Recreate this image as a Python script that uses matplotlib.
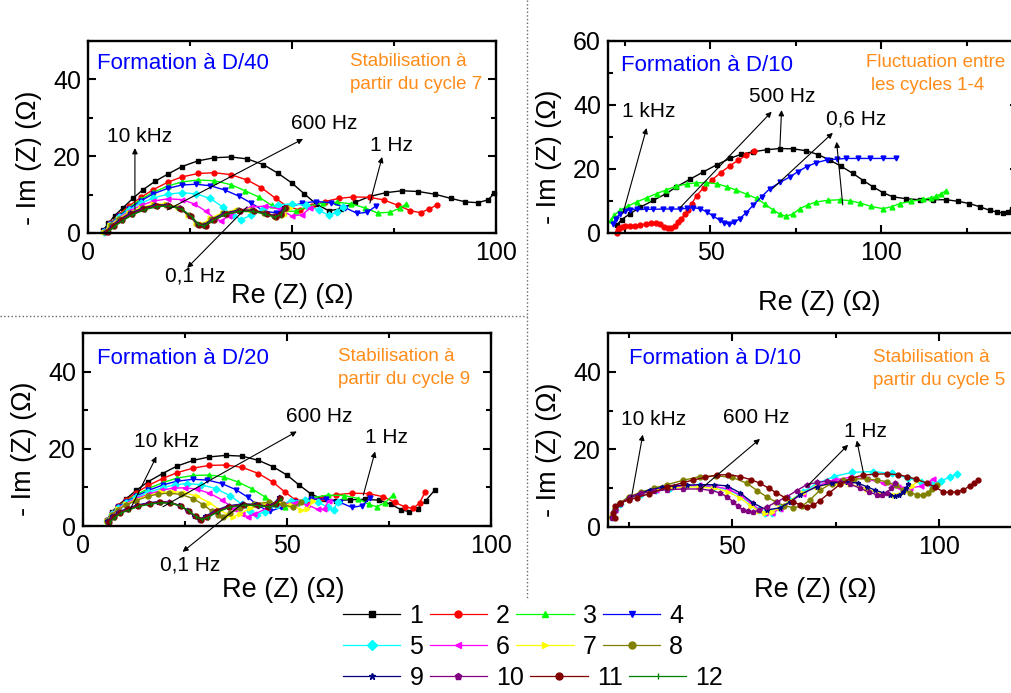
import matplotlib
matplotlib.use("Agg")
import matplotlib.pyplot as plt
from matplotlib.lines import Line2D
from matplotlib.ticker import MultipleLocator

plt.rcParams['font.family'] = ['Liberation Sans', 'DejaVu Sans']

#%% styles des cycles
COLORS = ['black', 'red', '#00ff00', 'blue', 'cyan', 'magenta', 'yellow',
          '#808000', '#000080', '#800080', '#800000', '#008000']
MARKERS = ['s', 'o', '^', 'v', 'D', '<', '>', 'o', '*', 'p', 'o', '|']
CYCLES = [str(i) for i in range(1, 13)]

#%% donnees : formation a D/40 (cycles 1-12)
D40_RE = [
    [3.7, 5, 6.5, 8.5, 11, 13.5, 16.5, 19.5, 23, 27, 31, 35, 39, 43, 46.5, 50, 53, 56, 59, 62, 65.5, 69, 73, 77, 81, 85, 89, 92.5, 95.5, 98, 99.6],
    [4, 5.5, 7.5, 10, 13, 16, 19.5, 23, 27, 31, 35, 39, 42.5, 46, 49, 52, 55, 58, 61.5, 65, 69, 72.5, 76, 79, 81.5, 83.5, 85.5],
    [4, 5.5, 7.5, 10, 13, 16, 19.5, 23, 27, 31, 35, 38.5, 42, 45, 48, 51, 54, 57.5, 61, 64.5, 68, 71, 74, 76.5, 78],
    [4, 5.5, 7.5, 10, 13, 16, 19.5, 23, 26.5, 30, 33.5, 37, 40, 43, 46, 49, 52.5, 56, 59.5, 63, 66, 68.5, 70.5],
    [4, 5.5, 7.5, 10, 13, 16, 19.5, 23, 26.5, 30, 33, 35.5, 37.5, 40, 43, 46.5, 50, 53.5, 56.5, 59, 61, 62.5],
    [4, 5.5, 7.5, 10, 13, 16, 19.5, 23, 26, 29, 31, 32.5, 34.5, 37, 40, 43.5, 47, 50, 52.5, 54.5],
    [4, 5.5, 7.5, 10, 13, 16, 19, 22, 24.5, 26.5, 28, 30, 33, 36.5, 40, 43.5, 46, 48, 49.5],
    [4.2, 5.7, 7.7, 10.2, 13.2, 16.2, 19.2, 22.2, 24.7, 26.7, 28.2, 30.2, 33.2, 36.7, 40.2, 43.2, 45.5, 47.3, 48.5],
    [4.4, 5.9, 7.9, 10.4, 13.4, 16.4, 19.4, 22.4, 24.9, 26.9, 28.4, 30.4, 33.4, 36.9, 40.4, 43.4, 45.5, 47, 48],
    [4.6, 6.1, 8.1, 10.6, 13.6, 16.6, 19.6, 22.6, 25.1, 27.1, 28.6, 30.6, 33.6, 37.1, 40.6, 43.6, 45.8, 47.2, 48.2],
    [4.8, 6.3, 8.3, 10.8, 13.8, 16.8, 19.8, 22.8, 25.3, 27.3, 28.8, 30.8, 33.8, 37.3, 40.8, 43.8, 46, 47.4, 48.4],
    [5, 6.5, 8.5, 11, 14, 17, 20, 23, 25.5, 27, 28.5, 30.5, 33.5, 37, 40.5, 43.5, 45.8, 47.3, 48.3],
]
D40_IM = [
    [0.7, 2.5, 4.5, 6.5, 9, 11.3, 13.5, 15.3, 17.3, 18.8, 19.6, 19.8, 19.3, 17.8, 15.6, 13, 10.2, 7.5, 5.8, 6.3, 8, 9.5, 10.5, 11, 10.8, 10.1, 9, 8.1, 7.9, 8.6, 10.3],
    [0.5, 2.5, 4.8, 7, 9.3, 11.3, 13.2, 14.6, 15.5, 15.7, 15.2, 13.8, 11.8, 9, 6.8, 6, 7, 8.2, 9, 9.4, 9.3, 8.6, 7.2, 5.8, 5.3, 6.2, 7.3],
    [0.4, 2.4, 4.5, 6.6, 8.8, 10.6, 12.2, 13.3, 13.8, 13.6, 12.6, 11, 9.3, 7.2, 5.6, 5.7, 7, 7.8, 8, 7.6, 6.5, 5.2, 5.4, 6.5, 7.6],
    [0.4, 2.3, 4.3, 6.3, 8.4, 10.2, 11.6, 12.5, 12.7, 12.3, 11.2, 9.6, 7.8, 5.8, 5.2, 6.6, 7.8, 8.2, 7.9, 6.6, 5.1, 5.4, 7],
    [0.3, 2.2, 4.1, 6, 7.8, 9.1, 10.1, 10.5, 10.2, 9, 6.8, 4.6, 3.5, 4.6, 6.3, 7.3, 7.6, 7.2, 6, 4.6, 5.4, 6.9],
    [0.3, 2.1, 3.9, 5.6, 7.2, 8.3, 8.9, 8.7, 7.6, 5.6, 3.8, 3.2, 4.3, 5.8, 6.8, 7, 6.2, 4.4, 4.8, 6.5],
    [0.3, 2, 3.7, 5.3, 6.6, 7.5, 7.6, 6.8, 4.8, 2.6, 2.3, 3.8, 5.3, 6.1, 6.1, 5.2, 4.1, 4.6, 6.5],
    [0.3, 2, 3.6, 5.2, 6.5, 7.3, 7.4, 6.6, 4.6, 2.4, 2.1, 3.6, 5.2, 6, 6, 5.3, 4.4, 4.8, 6.4],
    [0.3, 1.9, 3.5, 5.1, 6.4, 7.2, 7.3, 6.5, 4.5, 2.2, 2, 3.5, 5.1, 5.9, 5.9, 5.2, 4.5, 5.2, 6.8],
    [0.2, 1.8, 3.4, 5, 6.3, 7.1, 7.2, 6.4, 4.4, 2.1, 1.9, 3.4, 5, 5.8, 5.8, 5.1, 4.3, 5, 6.6],
    [0.2, 1.8, 3.3, 4.9, 6.2, 7, 7.1, 6.3, 4.3, 2, 1.8, 3.3, 4.9, 5.7, 5.7, 5, 4.2, 4.9, 6.5],
    [0.2, 1.7, 3.2, 4.8, 6.1, 6.9, 7, 6.2, 4.2, 2.3, 1.8, 3.2, 4.8, 5.6, 5.6, 4.9, 4.1, 4.8, 6.4],
]

#%% formation a D/10 (fluctuation, cycles 1-4)
D10F_RE = [
    [22.5, 24, 26.4, 29.5, 33.3, 37, 40, 44, 47.9, 51.8, 55.7, 59, 62.5, 66.4, 70.3, 74.2, 78, 81.5, 84.9, 88.3, 91.7, 94.7, 97.6, 100.5, 103.4, 107.3, 111.2, 115.1, 119, 122.5, 125.8, 128.8, 131.7, 134, 135.6, 137, 138.2],
    [22.5, 22.8, 23.3, 24, 25, 26.5, 28, 29.5, 31, 32.5, 34, 35.3, 36.5, 37.5, 38.5, 39.5, 40.5, 41.5, 42.5, 43.5, 44.5, 46, 48, 50.5, 53, 55.7, 58, 60.5, 62.8],
    [21, 21.8, 23.5, 25.8, 28.4, 31.3, 34.2, 37.1, 40, 43, 45.9, 48.8, 51.8, 54.7, 57.6, 60.6, 63.5, 66, 68.3, 70.3, 72.2, 74.2, 76.1, 78.5, 80.9, 84.3, 87.8, 90.8, 93.7, 97, 100.5, 103, 105.4, 108.8, 112.2, 114.5, 116.1, 117.6, 118.8],
    [21.6, 22.2, 23.5, 25, 26.4, 28.5, 31, 33.3, 36, 38.5, 41, 43, 45, 47, 48.9, 50.8, 52.7, 54, 55.5, 57, 58.6, 60.5, 62.5, 65, 67.4, 70.3, 73.2, 75.6, 78.1, 81, 84, 86.9, 89.8, 93.2, 96.6, 100.5, 104.4],
]
D10F_IM = [
    [2.4, 4.2, 6, 8.1, 10.2, 12.3, 14.4, 16.8, 19.1, 21.3, 23.3, 24.6, 25.4, 26, 26.4, 26.3, 25.7, 24.5, 22.8, 20.8, 18.6, 16.4, 14.4, 12.6, 11.3, 10.7, 10.4, 10.4, 10.4, 9.9, 9.2, 8.2, 7.1, 6.5, 6.3, 6.6, 7.6],
    [0, 0.8, 1.6, 2, 2.2, 2.2, 2.1, 2.4, 2.9, 3.2, 3.2, 2.7, 1.9, 1.5, 1.6, 2.3, 3.3, 4.5, 5.8, 7.3, 9.2, 11.7, 14.2, 16.6, 18.9, 21, 22.7, 24.3, 25.6],
    [4, 5.5, 7.1, 8.4, 9.7, 11, 12.3, 13.5, 14.6, 15.3, 15.7, 15.7, 15.4, 14.5, 13.4, 12.1, 10.8, 9, 7.2, 5.9, 5.2, 6, 7.6, 8.8, 9.7, 10.2, 10.4, 10.1, 9.4, 8.3, 7.6, 8.2, 9.2, 9.9, 10.5, 11, 11.5, 12.3, 13.2],
    [2.9, 4.5, 6, 6.8, 7.3, 7.5, 7.4, 7.4, 7.5, 7.5, 7.5, 7.7, 7.9, 7.6, 6.6, 5.3, 4, 3.2, 2.7, 3.3, 4.5, 6.4, 8.7, 11.4, 13.9, 15.8, 17.5, 19.2, 20.7, 22, 22.8, 23.1, 23.3, 23.3, 23.3, 23.3, 23.3],
]

#%% formation a D/20 (cycles 1-12)
D20_RE = [
    [5.8, 7, 8.5, 10.5, 13, 16, 19.5, 23, 27, 31, 35, 39, 43, 46.5, 50, 53, 56, 59, 62, 65.5, 69, 72.5, 75.5, 78, 80, 82, 84, 86.3],
    [5.8, 7, 8.5, 10.5, 13, 16, 19.5, 23, 27, 31, 35, 39, 43, 46.5, 49.5, 52, 55, 58.5, 62, 66, 70, 73.5, 76.5, 79, 81, 82.5, 83.8],
    [5.8, 7, 8.5, 10.5, 13, 16, 19.5, 23, 27, 31, 34.5, 38, 41.5, 44.5, 47, 49.5, 52.5, 56, 60, 64, 67.5, 70, 72, 74, 76],
    [5.8, 7, 8.5, 10.5, 13, 16, 19.5, 23, 27, 30.5, 34, 37.5, 40.5, 43, 45.8, 48.5, 52, 56, 59.5, 63, 66, 68.5, 70.3],
    [5.8, 7, 8.5, 10.5, 13, 16, 19.5, 22.5, 25.5, 29, 32.5, 36, 39, 41, 42.6, 44.5, 47.5, 51, 54.5, 57.5, 60, 61.4, 62.5],
    [5.8, 7, 8.5, 10.5, 13, 16, 19, 22, 25, 28, 31, 34, 37, 39, 40.5, 42, 45, 48.5, 52, 55, 57.5, 59, 60.2],
    [5.8, 7, 8.5, 10.5, 13, 16, 19, 22, 25, 28, 31, 33.5, 35.5, 36.8, 38.5, 41, 44.5, 48, 51, 53.5, 55, 56.3],
    [5.8, 7, 8.5, 10.5, 13, 16, 18.5, 21, 24, 27, 29.5, 31.5, 33.2, 34.4, 36, 38.5, 42, 45.5, 49, 51.5, 53.5],
    [6, 7.2, 8.7, 10.7, 13.2, 16, 18.5, 21, 23.5, 25.5, 27.2, 28.5, 30, 32.5, 35.5, 39, 42.5, 45, 46.8, 48],
    [6.2, 7.4, 8.9, 10.9, 13.4, 16.2, 18.7, 21.2, 23.7, 25.7, 27.4, 28.7, 30.2, 32.7, 35.7, 39.2, 42.7, 45.2, 47, 48.2],
    [6.4, 7.6, 9.1, 11.1, 13.6, 16.4, 18.9, 21.4, 23.9, 25.9, 27.6, 28.9, 30.4, 32.9, 35.9, 39.4, 42.9, 45.4, 47.2, 48.4],
    [6.6, 7.8, 9.3, 11.3, 13.8, 16.6, 19.1, 21.6, 24.1, 26.1, 27.8, 29.1, 30.6, 33.1, 36.1, 39.6, 43.1, 45.6, 47.4, 48.6],
]
D20_IM = [
    [1.5, 3.5, 5.3, 7, 9.2, 11.5, 13.6, 15.5, 17, 17.9, 18.3, 18.1, 17, 15.4, 13.2, 10.6, 8.2, 6.9, 6.6, 6.8, 6.9, 6.7, 5.6, 4.2, 3.7, 4.5, 6.6, 9.4],
    [1.5, 3.4, 5.1, 6.7, 8.6, 10.5, 12.3, 13.8, 15, 15.7, 15.8, 15.2, 13.6, 11.4, 8.8, 6.8, 6.4, 7.3, 8.1, 8.5, 8.4, 7.6, 6.1, 4.9, 4.6, 6, 8.7],
    [1.4, 3.3, 4.9, 6.4, 8, 9.7, 11.2, 12.4, 13.1, 13.2, 12.7, 11.4, 9.6, 7.6, 5.7, 5, 6, 7.3, 8, 7.9, 7.1, 5.6, 5, 6, 8],
    [1.4, 3.2, 4.8, 6.2, 7.7, 9.2, 10.6, 11.6, 12.1, 11.9, 11, 9.4, 7.4, 5.2, 3.8, 4.8, 6.2, 7, 7, 6.1, 4.8, 5.3, 7.2],
    [1.4, 3.1, 4.6, 6, 7.4, 8.7, 9.9, 10.7, 11, 10.7, 9.7, 7.9, 5.6, 3.8, 2.9, 3.7, 5.4, 6.4, 6.7, 6.2, 4.9, 4.2, 6.3],
    [1.3, 3, 4.5, 5.8, 7.1, 8.2, 9.2, 9.8, 9.9, 9.5, 8.5, 6.8, 4.5, 3, 2.4, 3, 4.6, 5.7, 6, 5.5, 4.3, 4.4, 6.5],
    [1.3, 2.9, 4.3, 5.6, 6.8, 7.9, 8.7, 8.9, 8.6, 7.7, 6, 4.2, 2.9, 2.4, 3.2, 4.6, 5.6, 5.9, 5.4, 4.2, 4.4, 6.4],
    [1.3, 2.8, 4.2, 5.4, 6.6, 7.7, 8.3, 8.5, 8.2, 7.1, 5.5, 3.9, 2.8, 2.4, 3.3, 4.7, 5.8, 6.1, 5.6, 4.8, 6.3],
    [1.2, 2.5, 3.6, 4.5, 5.4, 6, 6.3, 6.2, 5.4, 4.1, 2.7, 1.7, 2.5, 4, 5.2, 5.7, 5.6, 5.2, 5.8, 7.4],
    [1.1, 2.4, 3.5, 4.4, 5.3, 5.9, 6.2, 6.1, 5.3, 4, 2.6, 1.6, 2.4, 3.9, 5.1, 5.6, 5.5, 5.1, 5.7, 7.3],
    [1.1, 2.3, 3.4, 4.3, 5.2, 5.8, 6.1, 6, 5.2, 3.9, 2.5, 1.6, 2.3, 3.8, 5, 5.5, 5.4, 5, 5.6, 7.2],
    [1, 2.2, 3.3, 4.2, 5.1, 5.7, 6, 5.9, 5.1, 3.8, 2.4, 1.7, 2.2, 3.7, 4.9, 5.4, 5.3, 4.9, 5.5, 7.1],
]

#%% formation a D/10 (stabilisation, cycles 5-11)
D10S_CYCLES = [5, 6, 7, 8, 9, 10, 11]
D10S_RE = [
    [21, 21.8, 23, 25, 28, 31.5, 35, 38.5, 42, 45.5, 49, 52, 54.5, 56.5, 58, 59.5, 61.5, 64, 67, 70.5, 74.5, 79, 84, 88.5, 92.5, 95.5, 98, 100.5, 102.5, 104.2],
    [21, 21.8, 23, 25, 28, 31.5, 35, 38.5, 42, 45.5, 49, 52, 54.5, 56.5, 58, 59.5, 61.5, 64, 67, 70.5, 74.5, 78.5, 82.5, 86.5, 90, 93, 95.5, 97.2, 98.5],
    [21, 21.8, 23, 25, 28, 31.5, 35, 38.5, 42, 45.5, 49, 52, 54.5, 56.5, 58, 59.5, 61.5, 64, 67, 70.5, 74.5, 78.5, 82.5, 86, 89, 91.5, 93.5, 94.8],
    [21, 21.8, 23, 25, 28, 31, 34.2, 38, 42.2, 46, 50, 53.5, 56, 58.3, 60.5, 62.5, 64.7, 66.8, 68.8, 71.2, 74, 76.8, 79.5, 82.5, 85, 87.3, 89.5, 91.3, 93, 94.6, 96, 97.2, 98.3, 99.4],
    [21, 21.8, 23, 25, 27.5, 30.1, 33, 36, 39, 42.2, 45.5, 48.7, 51.9, 55, 58.3, 61.5, 64, 66.3, 70.4, 74, 77.7, 80.3, 82.5, 84.5, 86.5, 88, 89.3, 90.4, 91.3, 92, 92.5],
    [21, 21.8, 23, 25.3, 28, 31, 34.2, 38, 42.2, 45, 47, 48.8, 50.2, 51.5, 52.6, 53.8, 55, 56.5, 58.4, 60.8, 63.2, 65.6, 68, 70.5, 73, 76, 78.5, 80.9, 83, 84.9, 86.2, 87.3, 88.4, 89.3],
    [21.6, 21.3, 21.8, 23, 25, 27, 30, 34.2, 38, 40.5, 43.5, 46.3, 49, 51.9, 54.5, 56.7, 58.8, 60.7, 62.7, 64.7, 66.4, 68, 69.6, 71.2, 73.5, 76, 78.8, 81.7, 84.5, 87.3, 90, 92.2, 94.5, 97, 99, 100.9, 102.5, 104.2, 105.8, 107.4, 108.4, 109.4],
]
D10S_IM = [
    [2.5, 4.5, 6, 7.4, 8.6, 9.5, 10.1, 10.5, 10.6, 10.4, 9.6, 8, 6, 4.3, 3.5, 3.6, 4.8, 6.8, 9, 11.2, 13, 14.1, 14.3, 13.8, 12.6, 11.6, 11.2, 11.9, 12.8, 13.7],
    [2.5, 4.5, 6.1, 7.5, 8.7, 9.6, 10.2, 10.6, 10.7, 10.5, 9.8, 8.2, 6.2, 4.5, 3.6, 3.6, 4.6, 6.4, 8.6, 10.6, 12.1, 12.8, 12.4, 11.3, 10.4, 10.1, 10.5, 11.4, 12.4],
    [2.5, 4.5, 6, 7.4, 8.6, 9.5, 10, 10.3, 10.3, 10, 9.1, 7.4, 5.5, 4, 3.6, 3.9, 5, 6.8, 8.8, 10.4, 11.2, 11, 9.8, 8.6, 8.3, 9, 10.5, 12],
    [2.6, 4.7, 6.3, 7.8, 9, 10, 10.9, 12, 13, 13.2, 12.8, 11.3, 9.4, 7.8, 6.5, 5.5, 5, 5.3, 7, 9.5, 11.2, 12.1, 12.4, 12.4, 12.1, 11.7, 10.7, 9.6, 8.8, 8.3, 8.2, 8.8, 9.8, 10.9],
    [2.5, 4.4, 5.9, 7.4, 8.5, 9.6, 10.2, 10.6, 10.8, 10.9, 10.9, 10.6, 8.8, 6.2, 4.4, 4.9, 6.5, 8.3, 10.4, 11.3, 11.7, 11.3, 10.4, 9.5, 8.8, 8.2, 8, 8.3, 9.1, 10, 11.1],
    [2.4, 4.3, 5.9, 7.8, 8.7, 9.2, 9.6, 9.8, 9.8, 9.4, 8.8, 7.8, 6.5, 5.4, 4.4, 4, 3.9, 4.3, 5.2, 6.5, 7.8, 9.4, 10.9, 11.5, 11.8, 11.7, 11, 10, 9, 8.3, 8.2, 8.8, 10, 11.3],
    [2.3, 3.5, 5.3, 6.3, 7, 7.6, 8.6, 10.2, 11.4, 12.1, 12.8, 13.4, 13.5, 13, 12.2, 11.3, 10, 8.8, 7.6, 6.5, 5.7, 5.2, 5.6, 6.8, 8.8, 11, 12.6, 13.4, 13.6, 13.7, 13.5, 13, 12.3, 11.3, 10.3, 9.1, 8.9, 9.1, 9.5, 10.6, 11.3, 12],
]

#%% annotations (frequences) : texte, position texte, queue et pointe des fleches
D40_FREQ = ['10 kHz', '600 Hz', '1 Hz', '0,1 Hz']
D40_FREQ_POS = [(12.7, 25.0), (57.8, 28.6), (74.3, 22.7), (26.2, -11.2)]
D40_ARROWS = [((11.5, 6.0), (11.5, 22.1)), ((19.4, 6.0), (52.7, 24.5)),
              ((69.1, 7.8), (72.1, 19.8)), ((39.0, 6.8), (24.3, -9.1))]

D10F_FREQ = ['1 kHz', '500 Hz', '0,6 Hz']
D10F_FREQ_POS = [(32.0, 37.9), (71.0, 42.6), (92.7, 35.5)]
D10F_ARROWS = [((24.4, 6.2), (31.3, 32.8)), ((41.0, 7.8), (67.9, 37.9)),
               ((70.3, 26.6), (70.8, 38.4)), ((68.3, 14.0), (85.8, 31.3)),
               ((88.7, 8.8), (86.9, 28.5))]

D20_FREQ = ['10 kHz', '600 Hz', '1 Hz', '0,1 Hz']
D20_FREQ_POS = [(20.6, 21.9), (57.8, 28.4), (74.3, 22.8), (26.2, -10.1)]
D20_ARROWS = [((11.5, 4.2), (18.0, 18.0)), ((19.6, 5.0), (52.4, 24.5)),
              ((68.7, 8.0), (71.6, 19.3)), ((39.3, 6.0), (24.4, -6.7))]

D10S_FREQ = ['10 kHz', '600 Hz', '1 Hz']
D10S_FREQ_POS = [(31.0, 27.6), (55.7, 28.3), (82.3, 24.6)]
D10S_ARROWS = [((25.7, 7.8), (28.4, 23.8)), ((42.2, 9.6), (56.7, 22.7)),
               ((68.0, 10.4), (78.0, 21.2)), ((81.7, 13.9), (80.1, 22.3))]

ORANGE = '#ff8c1a'


#%% fonctions
def style_axes(ax, xlim, ylim, ylab_xy, xlab_xy):
    ax.set_xlim(xlim)
    ax.set_ylim(ylim)
    ax.xaxis.set_major_locator(MultipleLocator(50))
    ax.xaxis.set_minor_locator(MultipleLocator(25))
    ax.yaxis.set_major_locator(MultipleLocator(20))
    ax.yaxis.set_minor_locator(MultipleLocator(10))
    ax.tick_params(which='both', direction='in', top=True, right=True,
                   width=1.5, labelsize=18)
    ax.tick_params(axis='x', pad=6)
    ax.tick_params(axis='y', pad=5)
    ax.tick_params(which='major', length=6)
    ax.tick_params(which='minor', length=3.5)
    for s in ax.spines.values():
        s.set_linewidth(1.7)
    ax.set_ylabel('- Im (Z) (\u03a9)', fontsize=19.5)
    ax.set_xlabel('Re (Z) (\u03a9)', fontsize=19.5)
    ax.yaxis.set_label_coords(*ylab_xy)
    ax.xaxis.set_label_coords(*xlab_xy)


def plot_cycles(ax, res, ims, cycles):
    for re, im, c in zip(res, ims, cycles):
        ax.plot(re, im, '-', color=COLORS[c - 1], marker=MARKERS[c - 1],
                markersize=3.5, linewidth=1.0, clip_on=False)


def annotate(ax, labels, pos, arrows):
    for lab, (x, y) in zip(labels, pos):
        ax.text(x, y, lab, fontsize=15, ha='center', va='center', clip_on=False)
    for tail, head in arrows:
        ax.annotate('', xy=head, xytext=tail, annotation_clip=False,
                    arrowprops=dict(arrowstyle='-|>', color='black', lw=0.8,
                                    mutation_scale=8, shrinkA=0, shrinkB=0))


W, H = 1012, 693
fig = plt.figure(figsize=(W / 100, H / 100), dpi=100)

ax1 = fig.add_axes([88 / W, 1 - 233 / H, 408 / W, 192 / H])
ax2 = fig.add_axes([608 / W, 1 - 233 / H, 410 / W, 192 / H])
ax3 = fig.add_axes([83 / W, 1 - 526 / H, 408 / W, 193 / H])
ax4 = fig.add_axes([608 / W, 1 - 527 / H, 414 / W, 194 / H])

# D/40
plot_cycles(ax1, D40_RE, D40_IM, range(1, 13))
style_axes(ax1, (0, 100), (0, 50), (-0.113, 0.39), (0.5, -0.26))
annotate(ax1, D40_FREQ, D40_FREQ_POS, D40_ARROWS)
ax1.text(2.2, 44.2, 'Formation à D/40', color='blue', fontsize=16, va='center')
ax1.text(64.2, 44.6, 'Stabilisation à', color=ORANGE, fontsize=13.5, va='center')
ax1.text(64.2, 38.6, 'partir du cycle 7', color=ORANGE, fontsize=13.5, va='center')

# D/10 fluctuation
plot_cycles(ax2, D10F_RE, D10F_IM, range(1, 5))
style_axes(ax2, (20, 140), (0, 60), (-0.112, 0.396), (0.515, -0.297))
annotate(ax2, D10F_FREQ, D10F_FREQ_POS, D10F_ARROWS)
ax2.text(23.8, 52.3, 'Formation à D/10', color='blue', fontsize=16, va='center')
ax2.text(95.6, 53.2, 'Fluctuation entre', color=ORANGE, fontsize=13.5, va='center')
ax2.text(97.1, 46.0, 'les cycles 1-4', color=ORANGE, fontsize=13.5, va='center')

# D/20
plot_cycles(ax3, D20_RE, D20_IM, range(1, 13))
style_axes(ax3, (0, 100), (0, 50), (-0.113, 0.40), (0.49, -0.264))
annotate(ax3, D20_FREQ, D20_FREQ_POS, D20_ARROWS)
ax3.text(3.4, 43.5, 'Formation à D/20', color='blue', fontsize=16, va='center')
ax3.text(62.5, 44.0, 'Stabilisation à', color=ORANGE, fontsize=13.5, va='center')
ax3.text(62.5, 38.0, 'partir du cycle 9', color=ORANGE, fontsize=13.5, va='center')

# D/10 stabilisation
plot_cycles(ax4, D10S_RE, D10S_IM, D10S_CYCLES)
style_axes(ax4, (20, 120), (0, 50), (-0.111, 0.397), (0.5, -0.258))
annotate(ax4, D10S_FREQ, D10S_FREQ_POS, D10S_ARROWS)
ax4.text(25.1, 43.5, 'Formation à D/10', color='blue', fontsize=16, va='center')
ax4.text(83.9, 43.7, 'Stabilisation à', color=ORANGE, fontsize=13.5, va='center')
ax4.text(83.9, 37.8, 'partir du cycle 5', color=ORANGE, fontsize=13.5, va='center')

# lignes de separation pointillees
fig.add_artist(Line2D([527 / W, 527 / W], [1, 1 - 600 / H], transform=fig.transFigure,
                      ls=':', color='#666666', lw=1))
fig.add_artist(Line2D([0, 527 / W], [1 - 316 / H, 1 - 316 / H], transform=fig.transFigure,
                      ls=':', color='#666666', lw=1))

# legende : une rangee par legende (1-4, 5-8, 9-12)
handles = [Line2D([], [], color=COLORS[i], marker=MARKERS[i], markersize=5, lw=0.9)
           for i in range(12)]
for row, ypix in enumerate([616, 647, 678]):
    idx = range(4 * row, 4 * row + 4)
    fig.legend([handles[i] for i in idx], [CYCLES[i] for i in idx], ncol=4,
               loc='center left', bbox_to_anchor=(343 / W, 1 - ypix / H),
               frameon=False, fontsize=18, handlelength=2.3, handletextpad=0.36,
               columnspacing=0.25, borderpad=0, borderaxespad=0)

fig.savefig('out.png', dpi=100)
